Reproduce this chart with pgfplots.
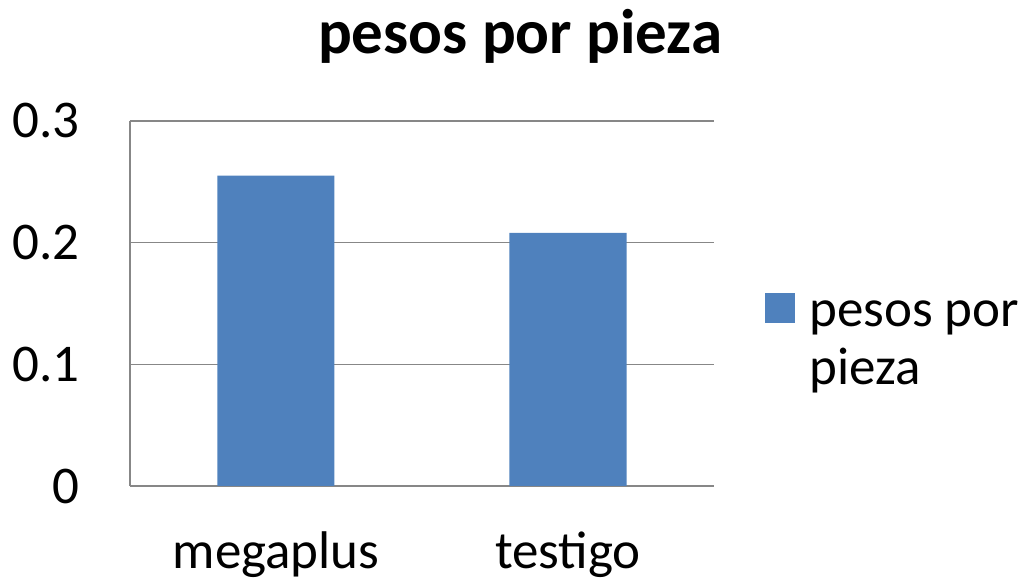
\documentclass[border=0pt]{standalone}
\usepackage{pgfplots}
\pgfplotsset{compat=1.18}
\usepackage{fontspec}
\setmainfont{Carlito}
\definecolor{barblue}{HTML}{4F81BD}
\definecolor{gridgray}{HTML}{878787}
\begin{document}
\begin{tikzpicture}
\useasboundingbox (-65pt,-47.5pt) rectangle (447pt,243pt);
\begin{axis}[
  at={(0,0)}, anchor=south west,
  scale only axis, width=292pt, height=182.5pt,
  ymin=0, ymax=0.3, ytick={0,0.1,0.2,0.3},
  xmin=-0.5, xmax=1.5, xtick={0,1}, xticklabels={megaplus,testigo},
  ybar, bar width=58.5pt,
  axis x line=bottom, axis y line=left,
  axis line style={gridgray, line width=0.7pt, -},
  ymajorgrids, grid style={gridgray, line width=0.7pt},
  major tick length=0pt,
  tick label style={font=\fontsize{26.5}{30}\selectfont},
  /pgf/number format/assume math mode=true,
  yticklabel style={anchor=east, inner sep=0pt, xshift=-25pt},
  xticklabel style={anchor=base, inner sep=0pt, yshift=-41.5pt},
  title={pesos por pieza},
  title style={font=\bfseries\fontsize{31.5}{36}\selectfont, at={(axis description cs:0.668,1.1534)}, anchor=base, inner sep=0pt},
  legend style={draw=none, fill=none, at={(axis description cs:1.0873,0.394)}, anchor=west,
    font=\fontsize{26.5}{29}\selectfont, cells={align=left}, inner sep=0pt,
    /tikz/every odd column/.append style={column sep=5pt}},
  legend cell align=left,
  legend image code/.code={\fill[barblue] (0pt,10.5pt) rectangle (15pt,25.5pt);},
]
\addplot[fill=barblue, draw=none] coordinates {(0,0.255) (1,0.208)};
\addlegendentry{pesos por\\pieza}
\end{axis}
\end{tikzpicture}
\end{document}
